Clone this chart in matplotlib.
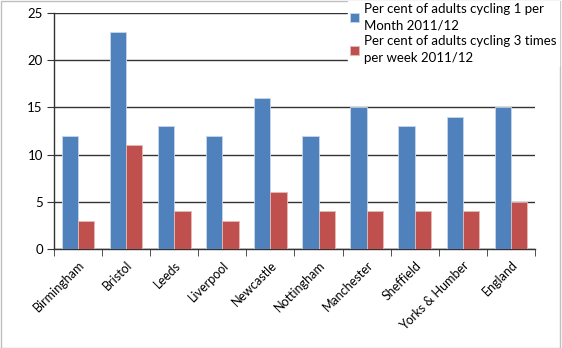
import numpy as np
import matplotlib.pyplot as plt
from matplotlib.patches import Rectangle

plt.rcParams['font.family'] = ['Lato', 'DejaVu Sans']

cities = ['Birmingham', 'Bristol', 'Leeds', 'Liverpool', 'Newcastle',
          'Nottingham', 'Manchester', 'Sheffield', 'Yorks & Humber', 'England']
monthly = [12, 23, 13, 12, 16, 12, 15, 13, 14, 15]
weekly = [3, 11, 4, 3, 6, 4, 4, 4, 4, 5]
series_names = ['Per cent of adults cycling 1 per\nMonth 2011/12',
                'Per cent of adults cycling 3 times\nper week 2011/12']

BLUE = '#4F81BD'
RED = '#C0504D'

fig = plt.figure(figsize=(5.62, 3.48), dpi=100)
ax = fig.add_axes([0.096, 0.284, 0.856, 0.679])

x = np.arange(len(cities))
w = 0.34
ax.bar(x - w / 2, monthly, w, color=BLUE, edgecolor='#c9d7ea', linewidth=0.6, label=series_names[0], zorder=3)
ax.bar(x + w / 2, weekly, w, color=RED, edgecolor='#e6b9b8', linewidth=0.6, label=series_names[1], zorder=3)

ax.set_xlim(-0.5, len(cities) - 0.5)
ax.set_ylim(0, 25)
ax.set_yticks([0, 5, 10, 15, 20, 25])
ax.yaxis.grid(True, color='#333333', linewidth=1.0, zorder=0)
ax.set_axisbelow(True)

ax.set_xticks(x)
ax.set_xticklabels(cities, rotation=45, ha='right', va='top', rotation_mode='anchor', fontsize=9)
ax.tick_params(axis='x', which='major', length=0, pad=7)
ax.set_xticks(np.arange(-0.5, len(cities)), minor=True)
ax.tick_params(axis='x', which='minor', length=5, color='#333333', direction='out')
ax.tick_params(axis='y', length=5, color='#333333', labelsize=9.5, pad=3)

for side in ['top', 'right']:
    ax.spines[side].set_visible(False)
for side in ['left', 'bottom']:
    ax.spines[side].set_color('#333333')
    ax.spines[side].set_linewidth(1.0)

leg = fig.legend(loc='upper left', bbox_to_anchor=(348 / 562, 1 - 1 / 348), bbox_transform=fig.transFigure,
                 frameon=True, fontsize=9.5, handlelength=0.65, handleheight=0.65, handletextpad=0.45,
                 labelspacing=0.25, borderpad=0.15, borderaxespad=0)
for t in leg.get_texts():
    t.set_linespacing(1.5)
leg.get_frame().set_edgecolor('white')
leg.get_frame().set_facecolor('white')
leg.get_frame().set_alpha(1)
leg.get_frame().set_boxstyle('square', pad=0)

fig.patches.append(Rectangle((0.002, 0.0), 0.994, 0.996, transform=fig.transFigure,
                             fill=False, edgecolor='#bfbfbf', linewidth=1.0))

fig.savefig('out.png', dpi=100)
